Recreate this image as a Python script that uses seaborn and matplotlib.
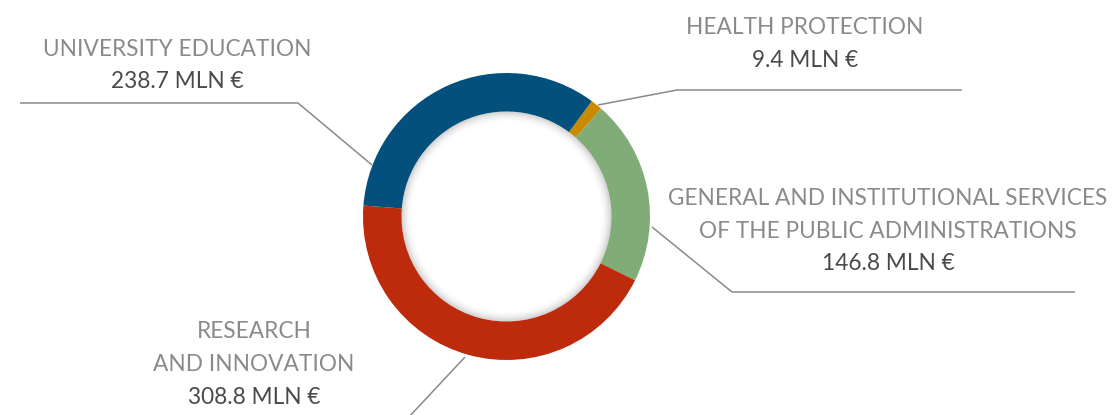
import numpy as np
import matplotlib
matplotlib.use('Agg')
import matplotlib.pyplot as plt
import seaborn as sns
from matplotlib.patches import Wedge

# data (clockwise from the health slice)
categories = ['HEALTH PROTECTION',
              'GENERAL AND INSTITUTIONAL SERVICES\nOF THE PUBLIC ADMINISTRATIONS',
              'RESEARCH\nAND INNOVATION',
              'UNIVERSITY EDUCATION']
values = [9.4, 146.8, 308.8, 238.7]
colors = ['#C98A00', '#80AC77', '#BD2A0C', '#03507D']

W, H = 1112, 415
sns.set_theme(style='white')
plt.rcParams['font.family'] = ['Lato', 'DejaVu Sans']

fig = plt.figure(figsize=(W / 100, H / 100), dpi=100)
ax = fig.add_axes([0, 0, 1, 1])

cx, cy, r_out, r_in = 506.5, H - 216.5, 143.5, 105

ax.pie(values, colors=colors, startangle=53.5, counterclock=False,
       radius=r_out, center=(cx, cy),
       wedgeprops=dict(width=r_out - r_in, edgecolor='none', linewidth=0))

# soft inner shadow
for i in range(16):
    ax.add_patch(Wedge((cx, cy), r_in - i * 0.7, 0, 360, width=0.8,
                       facecolor='black', edgecolor='none',
                       alpha=0.16 * (1 - i / 16) ** 2))

# leader lines (pixel coords, y from top)
line_kw = dict(color='#8a8a8a', lw=1.1, solid_capstyle='butt')
leaders = [
    [(598, 105), (677, 90), (962, 90)],
    [(652, 227), (732, 292), (1075, 292)],
    [(465, 357), (408, 418)],
    [(372, 165), (298, 103), (20, 103)],
]
for pts in leaders:
    xs = [p[0] for p in pts]
    ys = [H - p[1] for p in pts]
    ax.plot(xs, ys, **line_kw)

# labels: (x center, y of first line)
label_pos = [(805, 28), (888, 199), (254, 332), (177, 49)]
for cat, val, (lx, ly) in zip(categories, values, label_pos):
    lines = cat.split('\n')
    for j, t in enumerate(lines):
        ax.text(lx, H - (ly + j * 32.5), t, ha='center', va='center',
                fontsize=16.3, fontweight='normal', color='#8a8a8a')
    ax.text(lx, H - (ly + len(lines) * 32.5), f'{val} MLN €',
            ha='center', va='center', fontsize=16.3, color='#4a4a4a')

ax.set_xlim(0, W)
ax.set_ylim(0, H)
ax.set_aspect('equal')
ax.axis('off')

fig.savefig('out.png', dpi=100, facecolor='white')
